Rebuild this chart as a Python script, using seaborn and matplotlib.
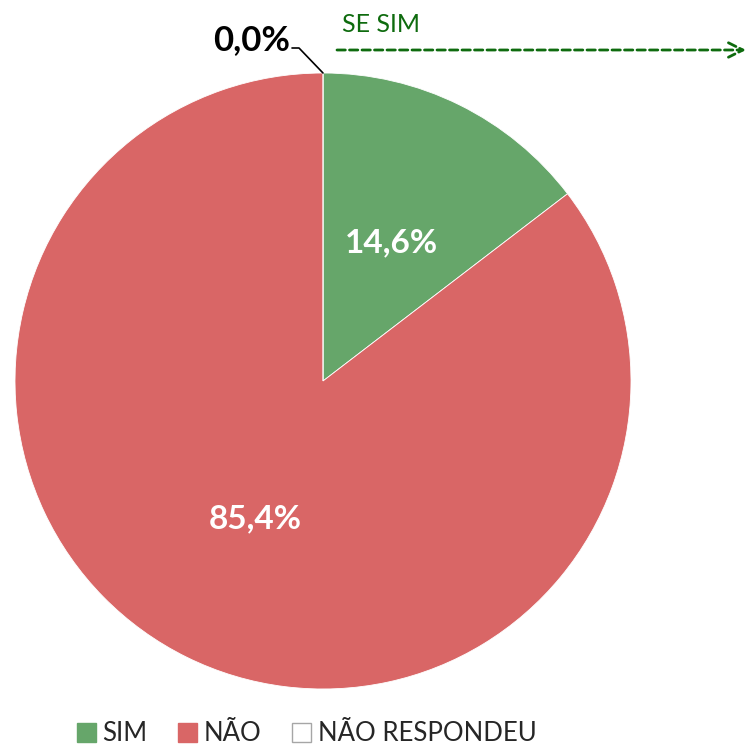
import numpy as np
import matplotlib
matplotlib.use("Agg")
import matplotlib.pyplot as plt
import seaborn as sns
from matplotlib.patches import Patch

sns.set_theme(style="white")
plt.rcParams["font.family"] = ["Lato", "DejaVu Sans"]

categories = ["SIM", "NÃO", "NÃO RESPONDEU"]
values = [14.6, 85.4, 0.0]
colors = ["#66A66A", "#D96666", "#FFFFFF"]
value_labels = ["14,6%", "85,4%", "0,0%"]

W, H = 748, 750
fig = plt.figure(figsize=(W / 100, H / 100), dpi=100)
ax = fig.add_axes([0, 0, 1, 1])

cx, cy, r = 323, H - 381, 308
wedges, _ = ax.pie(values, colors=colors, startangle=90, counterclock=False,
                   center=(cx, cy), radius=r, frame=True,
                   wedgeprops=dict(edgecolor="white", linewidth=0.6))
ax.set_xlim(0, W)
ax.set_ylim(0, H)
ax.set_aspect("equal")
ax.axis("off")

# value labels inside the visible wedges
for w, txt, v in zip(wedges, value_labels, values):
    if v <= 0:
        continue
    mid = np.deg2rad((w.theta1 + w.theta2) / 2)
    ax.text(cx + 0.5 * r * np.cos(mid), cy + 0.5 * r * np.sin(mid), txt,
            ha="center", va="center", color="white", fontsize=24, fontweight="bold")

# zero slice label with leader line
zero = wedges[2]
ang = np.deg2rad(zero.theta1)
px, py = cx + r * np.cos(ang), cy + r * np.sin(ang)
ax.plot([px, px - 24, px - 31], [py, py + 25, py + 25], color="black", lw=1.2)
ax.text(px - 33, py + 33, value_labels[2], ha="right", va="center",
        color="black", fontsize=25, fontweight="bold")

# follow-up arrow
ax.annotate("", xy=(W - 2, H - 50), xytext=(337, H - 50), annotation_clip=False,
            arrowprops=dict(arrowstyle="->", color="#0E6B0E", lw=2,
                            linestyle=(0, (3, 1.5)), mutation_scale=26,
                            shrinkA=0, shrinkB=0))
ax.text(342, H - 24, "SE SIM", ha="left", va="center", color="#0E6B0E", fontsize=18)

handles = [Patch(facecolor=c, edgecolor=("#A6A6A6" if c == "#FFFFFF" else c))
           for c in colors]
fig.legend(handles, categories, loc="lower center", bbox_to_anchor=(0.41, -0.026),
           ncol=3, frameon=False, fontsize=18.5, handlelength=0.74, handleheight=0.74,
           handletextpad=0.25, columnspacing=1.2)

fig.savefig("out.png", dpi=100)
